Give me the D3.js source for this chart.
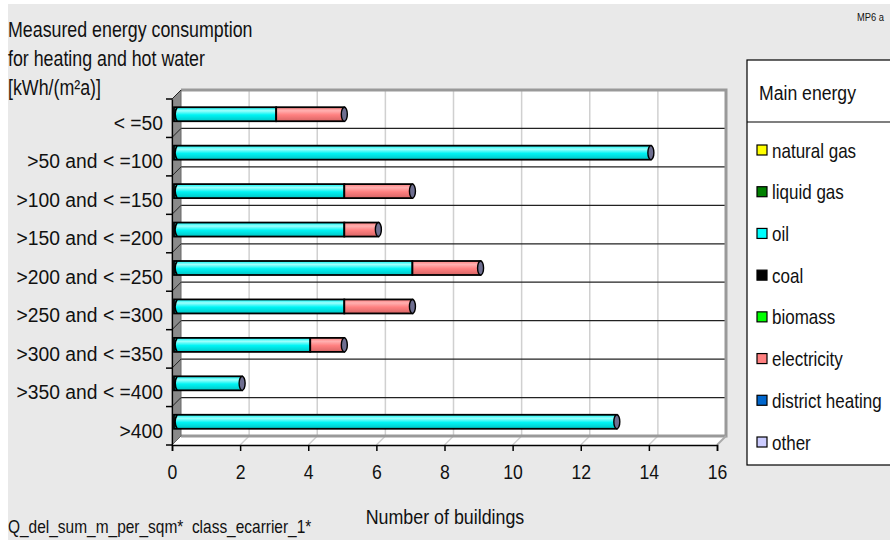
<!DOCTYPE html>
<html>
<head>
<meta charset="utf-8">
<script src="https://cdn.jsdelivr.net/npm/d3@7"></script>
<style>
  html, body { margin: 0; padding: 0; background: #ffffff; }
  svg { display: block; }
  text { font-family: "Liberation Sans", Arial, sans-serif; fill: #111; white-space: pre; }
</style>
</head>
<body>
<svg id="chart" width="890" height="540"></svg>
<script>
// Consumption classes (kWh per m² and year)
const categories = [
  "< =50", ">50 and < =100", ">100 and < =150", ">150 and < =200",
  ">200 and < =250", ">250 and < =300", ">300 and < =350", ">350 and < =400", ">400"
];
// Number of buildings per main energy carrier
const oilValues = [3, 14, 5, 5, 7, 5, 4, 2, 13];
const electricityValues = [2, 0, 2, 1, 2, 2, 1, 0, 0];
const xTickValues = [0, 2, 4, 6, 8, 10, 12, 14, 16];

const legendNames = ["natural gas", "liquid gas", "oil", "coal", "biomass", "electricity", "district heating", "other"];
const legendColors = ["#ffff00", "#008000", "#00ffff", "#000000", "#00ff00", "#ff8080", "#0066cc", "#ccccff"];

const titleLines = ["Measured energy consumption", "for heating and hot water", "[kWh/(m²a)]"];

const svg = d3.select("#chart");

// narrow face: squeeze the regular sans horizontally around its anchor point
function condense(sel, factor) {
  sel.each(function () {
    const t = d3.select(this);
    const tx = +t.attr("x") || 0, ty = +t.attr("y") || 0;
    t.attr("x", 0).attr("y", 0)
      .attr("transform", `translate(${tx},${ty}) scale(${factor},1)`);
  });
  return sel;
}

// page background with thin white margin at top and left
svg.append("rect").attr("x", 8).attr("y", 4).attr("width", 882).attr("height", 536).attr("fill", "#e9e9e9");

// 3D frame geometry
const depth = 9;
const front = { left: 172, right: 717, top: 99, bottom: 445 };
const x = d3.scaleLinear().domain([0, 16]).range([front.left, front.right]);
const y = d3.scaleBand().domain(categories).range([front.top, front.bottom]).padding(0);

const defs = svg.append("defs");
function cylGradient(id, light, mid, dark) {
  const g = defs.append("linearGradient").attr("id", id).attr("x1", 0).attr("y1", 0).attr("x2", 0).attr("y2", 1);
  g.append("stop").attr("offset", "0%").attr("stop-color", mid);
  g.append("stop").attr("offset", "25%").attr("stop-color", light);
  g.append("stop").attr("offset", "55%").attr("stop-color", mid);
  g.append("stop").attr("offset", "100%").attr("stop-color", dark);
}
cylGradient("gOil", "#9ffffc", "#00f4f4", "#00c4c4");
cylGradient("gElec", "#ffb0b0", "#ff8080", "#d86464");

const plot = svg.append("g");

// back wall
plot.append("rect")
  .attr("x", x(0) + depth).attr("y", front.top - depth)
  .attr("width", x(16) - x(0)).attr("height", front.bottom - front.top)
  .attr("fill", "#ffffff");

// floor
plot.append("path")
  .attr("d", `M${x(0) + depth},${front.bottom - depth} H${x(16) + depth} L${x(16)},${front.bottom} H${x(0)} Z`)
  .attr("fill", "#ffffff");

// vertical grid on the back wall
plot.selectAll("line.vgrid").data(xTickValues.slice(1, -1)).join("line")
  .attr("x1", d => x(d) + depth).attr("x2", d => x(d) + depth)
  .attr("y1", front.top - depth).attr("y2", front.bottom - depth)
  .attr("stroke", "#d0d0d0").attr("stroke-width", 1.5);

// floor grid (diagonals)
plot.selectAll("line.fgrid").data(xTickValues.slice(1, -1)).join("line")
  .attr("x1", d => x(d) + depth).attr("x2", d => x(d))
  .attr("y1", front.bottom - depth).attr("y2", front.bottom)
  .attr("stroke", "#d0d0d0").attr("stroke-width", 1.5);

// category separators on the back wall
plot.selectAll("line.sep").data(categories.slice(1)).join("line")
  .attr("x1", x(0) + depth).attr("x2", x(16) + depth)
  .attr("y1", d => y(d) - depth).attr("y2", d => y(d) - depth)
  .attr("stroke", "#222").attr("stroke-width", 1.2);

// back wall border (top, right, bottom)
plot.append("path")
  .attr("d", `M${x(0) + depth},${front.top - depth} H${x(16) + depth} V${front.bottom - depth} H${x(0) + depth}`)
  .attr("fill", "none").attr("stroke", "#999").attr("stroke-width", 3);
// floor right edge
plot.append("line")
  .attr("x1", x(16) + depth).attr("y1", front.bottom - depth)
  .attr("x2", x(16)).attr("y2", front.bottom)
  .attr("stroke", "#aaa").attr("stroke-width", 2);

// left side wall
plot.append("path")
  .attr("d", `M${x(0)},${front.top} L${x(0) + depth},${front.top - depth} L${x(0) + depth},${front.bottom - depth} L${x(0)},${front.bottom} Z`)
  .attr("fill", "#8a8a8a").attr("stroke", "#666").attr("stroke-width", 1);

// diagonal tick marks on the side wall
plot.selectAll("line.wtick").data(categories).join("line")
  .attr("x1", x(0)).attr("y1", d => y(d))
  .attr("x2", x(0) + depth).attr("y2", d => y(d) - depth)
  .attr("stroke", "#222").attr("stroke-width", 1);

// stacked cylinders
const barH = 14, shiftX = 2, shiftY = -4;
const stacks = categories.map((c, i) => ({
  cat: c,
  parts: [
    { v0: 0, v1: oilValues[i], fill: "url(#gOil)" },
    { v0: oilValues[i], v1: oilValues[i] + electricityValues[i], fill: "url(#gElec)" }
  ].filter(p => p.v1 > p.v0)
}));

const barG = plot.selectAll("g.bar").data(stacks).join("g")
  .attr("transform", d => `translate(${shiftX},${y(d.cat) + y.bandwidth() / 2 + shiftY - barH / 2})`);

barG.selectAll("rect").data(d => d.parts).join("rect")
  .attr("x", p => x(p.v0)).attr("y", 0)
  .attr("width", p => x(p.v1) - x(p.v0)).attr("height", barH)
  .attr("fill", p => p.fill).attr("stroke", "#000").attr("stroke-width", 1.8);

// rounded left end
barG.append("path")
  .attr("d", `M${x(0) + 3},0 Q${x(0) - 1},${barH / 2} ${x(0) + 3},${barH}`)
  .attr("fill", "none").attr("stroke", "#000").attr("stroke-width", 1.8);

// end caps
barG.append("ellipse")
  .attr("cx", d => x(d.parts[d.parts.length - 1].v1)).attr("cy", barH / 2)
  .attr("rx", 3).attr("ry", barH / 2)
  .attr("fill", "#6e6e90").attr("stroke", "#000").attr("stroke-width", 1.4);

// axes
const xAxis = d3.axisBottom(x).tickValues(xTickValues).tickSize(6).tickPadding(13).tickFormat(d3.format("d"));
const gx = svg.append("g").attr("transform", `translate(0,${front.bottom})`).call(xAxis);
gx.select(".domain").attr("stroke", "#000").attr("stroke-width", 1.5);
gx.selectAll(".tick line").attr("stroke", "#000").attr("stroke-width", 1.5);
gx.selectAll(".tick text").attr("font-size", 21).attr("fill", "#111")
  .style("font-family", "'Liberation Sans', Arial, sans-serif");
condense(gx.selectAll(".tick text"), 0.84);

const yAxis = d3.axisLeft(y).tickSize(0).tickPadding(9);
const gy = svg.append("g").attr("transform", `translate(${front.left},0)`).call(yAxis);
gy.select(".domain").attr("stroke", "#000").attr("stroke-width", 1.2);
gy.selectAll(".tick text").attr("font-size", 21).attr("fill", "#111").attr("dy", "0.56em")
  .style("font-family", "'Liberation Sans', Arial, sans-serif").style("white-space", "pre");
condense(gy.selectAll(".tick text"), 0.92);
// left boundary ticks
svg.selectAll("line.ltick").data(categories.map(c => y(c)).concat([front.bottom])).join("line")
  .attr("x1", front.left - 6).attr("x2", front.left).attr("y1", d => d).attr("y2", d => d)
  .attr("stroke", "#000").attr("stroke-width", 1.5);

// title
condense(svg.append("g").selectAll("text").data(titleLines).join("text")
  .attr("x", 8).attr("y", (d, i) => 37 + i * 29)
  .attr("font-size", 22).text(d => d), 0.81);

// axis title and footnote
condense(svg.append("text").attr("x", 445).attr("y", 524).attr("text-anchor", "middle").attr("font-size", 21).text("Number of buildings"), 0.85);
condense(svg.append("text").attr("x", 8).attr("y", 533).attr("font-size", 18).text("Q_del_sum_m_per_sqm*  class_ecarrier_1*"), 0.86);
condense(svg.append("text").attr("x", 857).attr("y", 21).attr("font-size", 11).text("MP6 a"), 0.85);

// legend
const lg = svg.append("g");
lg.append("rect").attr("x", 747).attr("y", 60).attr("width", 160).attr("height", 405)
  .attr("fill", "#ffffff").attr("stroke", "#000").attr("stroke-width", 1.2);
lg.append("line").attr("x1", 747).attr("x2", 890).attr("y1", 122).attr("y2", 122).attr("stroke", "#000").attr("stroke-width", 1.2);
condense(lg.append("text").attr("x", 759).attr("y", 100).attr("font-size", 21).text("Main energy"), 0.84);
const ly = d3.scalePoint().domain(legendNames).range([150, 442]);
const item = lg.selectAll("g.item").data(legendNames).join("g")
  .attr("transform", d => `translate(757,${ly(d)})`);
item.append("rect").attr("x", 0).attr("y", -5).attr("width", 10).attr("height", 10)
  .attr("fill", (d, i) => legendColors[i]).attr("stroke", "#000").attr("stroke-width", 1.2);
condense(item.append("text").attr("x", 15).attr("y", 0).attr("dy", "0.36em").attr("font-size", 21).text(d => d), 0.81);
</script>
</body>
</html>
